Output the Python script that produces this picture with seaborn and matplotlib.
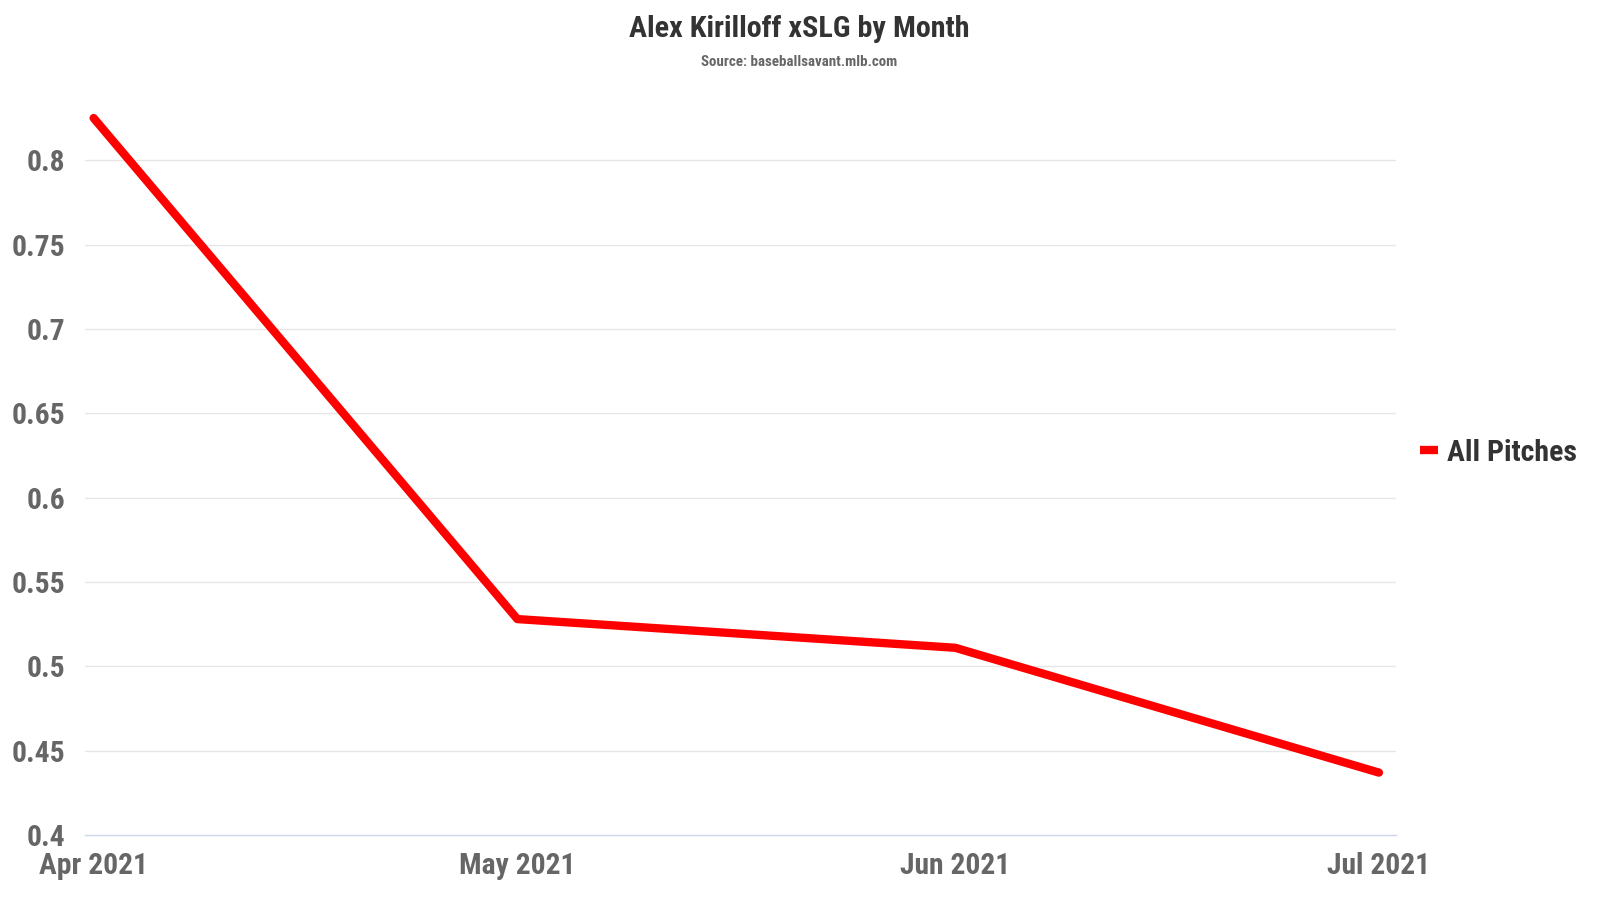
import pandas as pd
import numpy as np
import seaborn as sns
import matplotlib.pyplot as plt
import matplotlib.dates as mdates
from matplotlib import font_manager

# data
months = ["2021-04-01", "2021-05-01", "2021-06-01", "2021-07-01"]
xslg = [0.825, 0.528, 0.511, 0.437]
series_name = "All Pitches"
y_ticks = [0.4, 0.45, 0.5, 0.55, 0.6, 0.65, 0.7, 0.75, 0.8]
y_tick_labels = ["0.4", "0.45", "0.5", "0.55", "0.6", "0.65", "0.7", "0.75", "0.8"]

df = pd.DataFrame({"month": pd.to_datetime(months), "xslg": xslg, "series": series_name})

sns.set_theme(style="white")
installed = {f.name for f in font_manager.fontManager.ttflist}
fams = [f for f in ["Roboto Condensed", "Liberation Sans Narrow", "Roboto", "DejaVu Sans"] if f in installed]
plt.rcParams["font.family"] = fams

fig = plt.figure(figsize=(16, 9), dpi=100)
ax = fig.add_axes([0.053, 0.0722, 0.8195, 0.806])

sns.lineplot(data=df, x="month", y="xslg", hue="series", palette=["#ff0000"],
             linewidth=6, ax=ax, legend=False)
for ln in ax.lines:
    ln.set_solid_capstyle("round")
    ln.set_solid_joinstyle("round")
    ln.set_clip_on(False)

# axes ranges
ax.set_xlim(pd.Timestamp("2021-04-01") - pd.Timedelta(hours=15),
            pd.Timestamp("2021-07-01") + pd.Timedelta(hours=29))
ax.set_ylim(0.4, 0.83)

ax.set_yticks(y_ticks)
ax.set_yticklabels(y_tick_labels)
ax.xaxis.set_major_locator(mdates.MonthLocator())
ax.xaxis.set_major_formatter(mdates.DateFormatter("%b %Y"))

for y in y_ticks[1:]:
    ax.axhline(y, color="#e6e6e6", linewidth=1, zorder=0)

for s in ["top", "right", "left"]:
    ax.spines[s].set_visible(False)
ax.spines["bottom"].set_color("#ccd6eb")
ax.spines["bottom"].set_linewidth(1)

ax.tick_params(axis="x", length=10, width=1, color="#ccd6eb", direction="out",
               pad=2, labelsize=21.3, labelcolor="#666666")
ax.tick_params(axis="y", length=0, pad=14, labelsize=21.3, labelcolor="#666666")
for lab in ax.get_xticklabels() + ax.get_yticklabels():
    lab.set_fontweight("bold")
ax.set_xlabel("")
ax.set_ylabel("")

fig.text(0.4995, 0.968, "Alex Kirilloff xSLG by Month", ha="center", va="center",
         fontsize=21.7, fontweight="bold", color="#333333")
fig.text(0.4995, 0.931, "Source: baseballsavant.mlb.com", ha="center", va="center",
         fontsize=10.8, fontweight="bold", color="#666666")

handle = plt.Line2D([], [], color="#ff0000", linewidth=6, solid_capstyle="butt")
fig.legend([handle], [series_name], loc="center left", bbox_to_anchor=(0.871, 0.497),
           frameon=False, handlelength=0.6, handletextpad=0.3,
           prop={"weight": "bold", "size": 21.5}, labelcolor="#333333")

fig.savefig("out.png", dpi=100)
